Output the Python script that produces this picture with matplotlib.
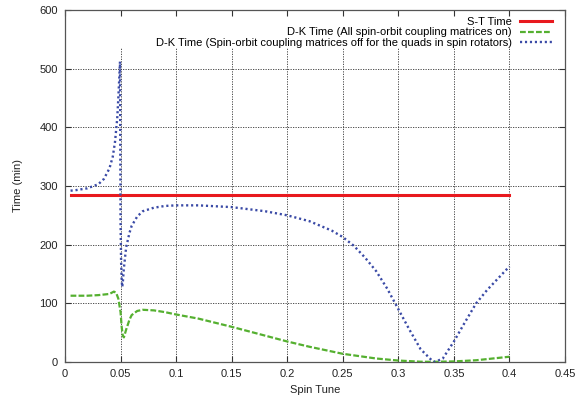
import matplotlib
matplotlib.use("Agg")
import matplotlib.pyplot as plt

plt.rcParams['font.family'] = ['Liberation Sans', 'DejaVu Sans']

# ---- data ----
st_x = [0.005, 0.4]
st_y = [285, 285]

dk_all_x = [0.005, 0.02, 0.03, 0.04, 0.044, 0.046, 0.048, 0.05, 0.051, 0.052, 0.053,
            0.055, 0.058, 0.06, 0.065, 0.07, 0.08, 0.09, 0.1, 0.12, 0.15, 0.18, 0.2,
            0.22, 0.25, 0.28, 0.3, 0.32, 0.33, 0.35, 0.37, 0.4]
dk_all_y = [113, 113, 114, 116, 120, 118, 108, 85, 60, 45, 42,
            55, 72, 80, 87, 89, 88, 85, 81, 74, 60, 45, 35,
            26, 14, 6, 2.5, 0.5, 0.3, 1, 3, 9]

dk_off_x = [0.005, 0.01, 0.02, 0.03, 0.035, 0.04, 0.043, 0.045, 0.047, 0.048, 0.049,
            0.0495, 0.0500, 0.0505, 0.051, 0.0515, 0.052, 0.053, 0.055, 0.058, 0.06,
            0.065, 0.07, 0.08, 0.09, 0.1, 0.12, 0.15, 0.18, 0.2, 0.22, 0.24, 0.25,
            0.26, 0.27, 0.28, 0.29, 0.3, 0.31, 0.32, 0.33, 0.333, 0.34, 0.35, 0.36,
            0.37, 0.38, 0.39, 0.4]
dk_off_y = [292, 293, 296, 303, 312, 330, 350, 375, 415, 450, 490,
            512, 240, 170, 140, 128, 135, 160, 195, 220, 232,
            248, 257, 263, 266, 267, 267, 264, 257, 250, 240, 224, 213,
            198, 178, 155, 125, 90, 55, 22, 3, 0, 6, 35, 68,
            100, 123, 143, 163]

x_ticks = [0, 0.05, 0.1, 0.15, 0.2, 0.25, 0.3, 0.35, 0.4, 0.45]
x_tick_labels = ['0', '0.05', '0.1', '0.15', '0.2', '0.25', '0.3', '0.35', '0.4', '0.45']
y_ticks = [0, 100, 200, 300, 400, 500, 600]

labels = ['S-T Time',
          'D-K Time (All spin-orbit coupling matrices on)',
          'D-K Time (Spin-orbit coupling matrices off for the quads in spin rotators)']

# ---- figure ----
fig = plt.figure(figsize=(5.84, 3.99), dpi=100)
ax = fig.add_axes([0.1113, 0.0927, 0.8562, 0.8823])

ax.set_xlim(0, 0.45)
ax.set_ylim(0, 600)
ax.set_xticks(x_ticks)
ax.set_xticklabels(x_tick_labels)
ax.set_yticks(y_ticks)

grid_top = 0.892
for xv in x_ticks[1:-1]:
    ax.axvline(xv, ymin=0, ymax=grid_top, color='#333333', lw=0.6,
               ls=(0, (1.5, 1.5)), zorder=1)
for yv in y_ticks[1:-1]:
    ax.axhline(yv, color='#333333', lw=0.6, ls=(0, (1.5, 1.5)), zorder=1)

ax.plot(st_x, st_y, color='#e8191e', lw=2.2, label=labels[0], zorder=3)
ax.plot(dk_all_x, dk_all_y, color='#55b030', lw=1.6, ls=(0, (2.6, 1.0)),
        label=labels[1], zorder=3)
ax.plot(dk_off_x, dk_off_y, color='#3a4aa6', lw=1.7, ls=(0, (0.9, 1.2)),
        label=labels[2], zorder=3)

leg = ax.legend(loc='upper right', bbox_to_anchor=(0.988, 1.0),
                markerfirst=False, frameon=False,
                fontsize=8, handlelength=2.9, labelspacing=0.02,
                handletextpad=0.7, borderaxespad=0.35, borderpad=0.3)

for s in ax.spines.values():
    s.set_color('#555555')
    s.set_linewidth(0.9)
ax.tick_params(direction='in', top=True, right=True, length=4, width=0.8,
               color='#333333', labelsize=8, labelcolor='#222222', pad=5)

ax.set_xlabel('Spin Tune', fontsize=8, color='#222222', labelpad=4)
ax.set_ylabel('Time (min)', fontsize=8, color='#222222', labelpad=12)

fig.savefig('out.png', dpi=100)
